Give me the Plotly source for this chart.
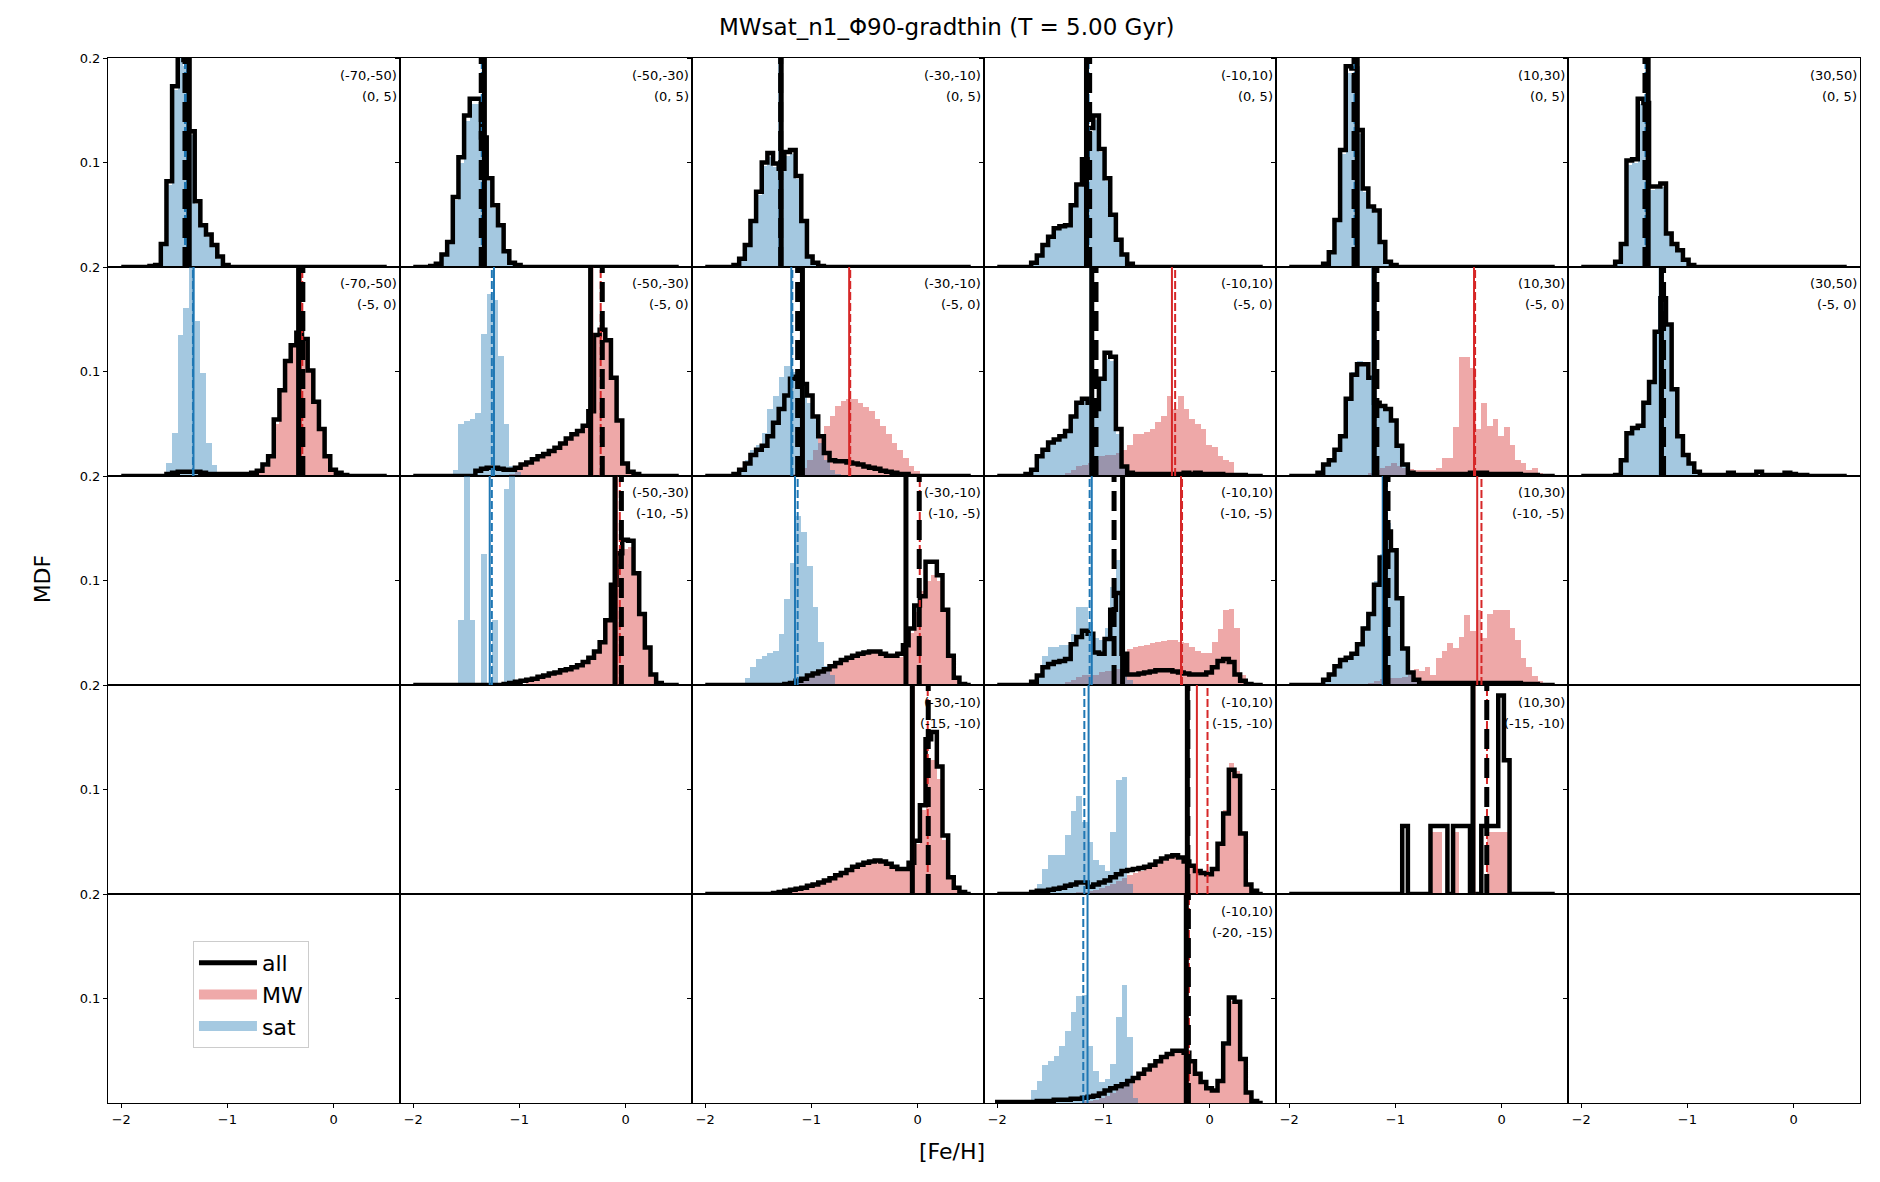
import numpy as np
import plotly.graph_objects as go
from plotly.subplots import make_subplots

NB = 47
edges = np.linspace(-2.0, 0.5, NB + 1)
centers = 0.5 * (edges[:-1] + edges[1:])
bw = edges[1] - edges[0]


def hist(start, vals):
    out = [0.0] * NB
    out[start:start + len(vals)] = vals
    return out


col_labels = ["(-70,-50)", "(-50,-30)", "(-30,-10)", "(-10,10)", "(10,30)", "(30,50)"]
row_labels = ["(0, 5)", "(-5, 0)", "(-10, -5)", "(-15, -10)", "(-20, -15)"]

# vertical lines: [all mean, all median, MW mean, MW median, sat mean, sat median]

# ---- row 0 : (0, 5) ----
all_r0c0 = hist(5, [0.001, 0.002, 0.022, 0.082, 0.173, 0.21, 0.198, 0.13, 0.063, 0.040, 0.031, 0.021, 0.010, 0.002])
sat_r0c0 = hist(6, [0.002, 0.02, 0.078, 0.169, 0.20, 0.192, 0.126, 0.06, 0.038, 0.029, 0.019, 0.008])
vl_r0c0 = [-1.36, -1.40, None, None, -1.38, -1.40]

all_r0c1 = hist(3, [0.001, 0.003, 0.012, 0.024, 0.067, 0.105, 0.145, 0.161, 0.161, 0.124, 0.085, 0.059, 0.040, 0.015, 0.004, 0.002])
sat_r0c1 = hist(4, [0.003, 0.011, 0.022, 0.064, 0.1, 0.14, 0.156, 0.156, 0.12, 0.082, 0.056, 0.038, 0.014, 0.003])
vl_r0c1 = [-1.33, -1.36, None, None, -1.34, -1.355]

all_r0c2 = hist(5, [0.002, 0.008, 0.021, 0.044, 0.072, 0.10, 0.109, 0.099, 0.094, 0.11, 0.112, 0.087, 0.044, 0.010, 0.004, 0.001])
sat_r0c2 = hist(5, [0.002, 0.007, 0.02, 0.042, 0.069, 0.097, 0.105, 0.096, 0.091, 0.106, 0.108, 0.084, 0.042, 0.009, 0.003, 0.001])
vl_r0c2 = [-1.285, -1.29, None, None, -1.30, -1.29]

all_r0c3 = hist(6, [0.004, 0.011, 0.021, 0.029, 0.037, 0.039, 0.040, 0.059, 0.079, 0.103, 0.133, 0.145, 0.113, 0.085, 0.050, 0.026, 0.012, 0.003])
sat_r0c3 = hist(6, [0.004, 0.01, 0.02, 0.028, 0.036, 0.038, 0.039, 0.057, 0.077, 0.1, 0.129, 0.141, 0.11, 0.082, 0.048, 0.025, 0.011, 0.003])
vl_r0c3 = [-1.16, -1.13, None, None, -1.17, -1.14]

all_r0c4 = hist(6, [0.003, 0.014, 0.045, 0.112, 0.192, 0.19, 0.131, 0.075, 0.058, 0.054, 0.024, 0.005, 0.002])
sat_r0c4 = hist(6, [0.003, 0.013, 0.043, 0.108, 0.186, 0.184, 0.127, 0.072, 0.056, 0.052, 0.023, 0.005, 0.002])
vl_r0c4 = [-1.36, -1.39, None, None, -1.37, -1.385]

all_r0c5 = hist(6, [0.005, 0.022, 0.102, 0.103, 0.161, 0.157, 0.077, 0.077, 0.080, 0.032, 0.022, 0.016, 0.007, 0.002])
sat_r0c5 = hist(6, [0.005, 0.021, 0.098, 0.1, 0.156, 0.152, 0.074, 0.075, 0.077, 0.031, 0.021, 0.015, 0.007, 0.002])
vl_r0c5 = [-1.37, -1.40, None, None, -1.375, -1.395]

# ---- row 1 : (-5, 0) ----
all_r1c0 = hist(8, [0.002, 0.003, 0.004, 0.004, 0.004, 0.004, 0.003, 0.002, 0.002, 0.002, 0.002, 0.002, 0.002,
                    0.002, 0.002, 0.003, 0.005, 0.011, 0.019, 0.054, 0.082, 0.11, 0.125, 0.137, 0.131, 0.101,
                    0.071, 0.045, 0.019, 0.006, 0.003, 0.001])
mw_r1c0 = hist(22, [0.001, 0.002, 0.004, 0.009, 0.018, 0.05, 0.08, 0.108, 0.123, 0.133, 0.128, 0.1, 0.07, 0.044,
                    0.018, 0.006, 0.002])
sat_r1c0 = hist(8, [0.012, 0.041, 0.135, 0.161, 0.23, 0.148, 0.099, 0.032, 0.011])
vl_r1c0 = [-0.33, -0.29, -0.31, -0.295, -1.32, -1.325]

all_r1c1 = hist(11, [0.005, 0.007, 0.008, 0.008, 0.007, 0.006, 0.006, 0.008, 0.011, 0.013, 0.016, 0.019, 0.021,
                     0.024, 0.027, 0.031, 0.036, 0.04, 0.043, 0.048, 0.062, 0.135, 0.14, 0.13, 0.094, 0.053,
                     0.012, 0.004, 0.002])
mw_r1c1 = hist(17, [0.002, 0.006, 0.01, 0.013, 0.016, 0.019, 0.021, 0.024, 0.027, 0.031, 0.036, 0.04, 0.043, 0.048,
                    0.062, 0.133, 0.143, 0.13, 0.094, 0.053, 0.012, 0.004])
sat_r1c1 = hist(7, [0.006, 0.05, 0.053, 0.055, 0.06, 0.136, 0.174, 0.168, 0.115, 0.05, 0.01, 0.004])
vl_r1c1 = [-0.33, -0.22, -0.315, -0.235, -1.24, -1.26]

all_r1c2 = hist(5, [0.002, 0.006, 0.012, 0.02, 0.025, 0.029, 0.038, 0.051, 0.064, 0.077, 0.093, 0.095, 0.088,
                    0.077, 0.057, 0.038, 0.022, 0.015, 0.014, 0.014, 0.013, 0.012, 0.011, 0.009, 0.008, 0.007,
                    0.005, 0.004, 0.003, 0.002, 0.002])
mw_r1c2 = hist(15, [0.002, 0.004, 0.008, 0.015, 0.025, 0.038, 0.048, 0.057, 0.067, 0.072, 0.074, 0.074, 0.07,
                    0.066, 0.062, 0.055, 0.048, 0.04, 0.032, 0.025, 0.017, 0.01, 0.005, 0.002])
sat_r1c2 = hist(6, [0.005, 0.015, 0.025, 0.03, 0.041, 0.064, 0.077, 0.095, 0.105, 0.10, 0.098, 0.085, 0.07, 0.055,
                    0.032, 0.015, 0.006, 0.002])
vl_r1c2 = [-1.085, -1.13, -0.645, -0.635, -1.19, -1.18]

all_r1c3 = hist(5, [0.002, 0.006, 0.019, 0.025, 0.032, 0.035, 0.038, 0.043, 0.057, 0.070, 0.074, 0.070, 0.064,
                    0.093, 0.118, 0.114, 0.045, 0.009, 0.003, 0.002, 0.002, 0.002, 0.002, 0.002, 0.002, 0.002,
                    0.002, 0.002, 0.003, 0.002, 0.003, 0.002, 0.002, 0.002, 0.002, 0.001, 0.001, 0.001, 0.001])
mw_r1c3 = hist(12, [0.003, 0.006, 0.01, 0.011, 0.012, 0.015, 0.019, 0.02, 0.02, 0.022, 0.025, 0.03, 0.04, 0.04,
                    0.042, 0.045, 0.052, 0.057, 0.077, 0.064, 0.077, 0.064, 0.055, 0.05, 0.045, 0.03, 0.028,
                    0.019, 0.015, 0.013, 0.003])
sat_r1c3 = hist(5, [0.002, 0.007, 0.02, 0.026, 0.033, 0.036, 0.04, 0.045, 0.058, 0.072, 0.076, 0.072, 0.066,
                    0.095, 0.112, 0.11, 0.04, 0.008, 0.002])
vl_r1c3 = [-1.11, -1.07, -0.355, -0.325, -1.12, -1.115]

all_r1c4 = hist(5, [0.003, 0.011, 0.015, 0.025, 0.038, 0.074, 0.097, 0.107, 0.107, 0.094, 0.07, 0.067, 0.064,
                    0.053, 0.029, 0.011, 0.003, 0.002, 0.002, 0.002, 0.002, 0.002, 0.002, 0.002, 0.002, 0.002,
                    0.002, 0.003, 0.003, 0.003, 0.002, 0.002, 0.002, 0.002, 0.002, 0.002, 0.001, 0.001, 0.001])
mw_r1c4 = hist(14, [0.003, 0.006, 0.008, 0.01, 0.012, 0.01, 0.008, 0.007, 0.006, 0.006, 0.006, 0.006, 0.008,
                    0.017, 0.017, 0.047, 0.114, 0.114, 0.103, 0.045, 0.07, 0.048, 0.055, 0.038, 0.047, 0.03,
                    0.015, 0.012, 0.006, 0.008, 0.003])
sat_r1c4 = hist(5, [0.003, 0.012, 0.016, 0.026, 0.04, 0.076, 0.1, 0.11, 0.108, 0.096, 0.072, 0.068, 0.066, 0.054,
                    0.028, 0.01, 0.003])
vl_r1c4 = [-1.20, -1.175, -0.26, -0.25, -1.215, -1.19]

all_r1c5 = hist(6, [0.001, 0.015, 0.041, 0.046, 0.048, 0.07, 0.09, 0.138, 0.17, 0.145, 0.083, 0.038, 0.02, 0.012,
                    0.004, 0.001, 0.001, 0.001, 0.001, 0.001, 0.003, 0.001, 0.001, 0.001, 0.001, 0.004, 0.001,
                    0.001, 0.001, 0.001, 0.003, 0.002, 0.001, 0.001])
sat_r1c5 = hist(7, [0.015, 0.04, 0.046, 0.048, 0.07, 0.09, 0.138, 0.165, 0.145, 0.083, 0.038, 0.02, 0.012, 0.004])
vl_r1c5 = [-1.245, -1.225, None, None, -1.26, -1.235]

# ---- row 2 : (-10, -5) ----
all_r2c1 = hist(16, [0.001, 0.002, 0.003, 0.004, 0.005, 0.006, 0.008, 0.009, 0.011, 0.012, 0.014, 0.015, 0.017,
                     0.019, 0.022, 0.026, 0.032, 0.041, 0.062, 0.096, 0.126, 0.139, 0.138, 0.107, 0.068, 0.036,
                     0.010, 0.002])
mw_r2c1 = hist(20, [0.003, 0.005, 0.007, 0.009, 0.011, 0.012, 0.014, 0.015, 0.017, 0.019, 0.022, 0.026, 0.032,
                    0.04, 0.06, 0.094, 0.12, 0.13, 0.132, 0.105, 0.066, 0.035, 0.009, 0.002])
sat_r2c1 = hist(8, [0.062, 0.25, 0.062, 0.0, 0.125, 0.0, 0.062, 0.0, 0.188, 0.25])
vl_r2c1 = [-0.10, -0.04, -0.085, -0.055, -1.28, -1.26]

all_r2c2 = hist(14, [0.001, 0.002, 0.004, 0.006, 0.009, 0.011, 0.013, 0.015, 0.018, 0.021, 0.024, 0.026, 0.028,
                     0.03, 0.031, 0.032, 0.032, 0.03, 0.028, 0.028, 0.03, 0.038, 0.054, 0.076, 0.085, 0.118,
                     0.118, 0.105, 0.072, 0.028, 0.007, 0.001])
mw_r2c2 = hist(14, [0.001, 0.002, 0.003, 0.005, 0.008, 0.01, 0.012, 0.014, 0.017, 0.02, 0.023, 0.025, 0.027,
                    0.029, 0.03, 0.031, 0.031, 0.03, 0.028, 0.027, 0.027, 0.035, 0.05, 0.07, 0.09, 0.1, 0.105,
                    0.1, 0.07, 0.028, 0.006, 0.001])
sat_r2c2 = hist(7, [0.007, 0.017, 0.025, 0.028, 0.031, 0.033, 0.049, 0.082, 0.117, 0.162, 0.146, 0.114, 0.075,
                    0.041, 0.018, 0.01])
vl_r2c2 = [-0.11, 0.015, -0.10, 0.02, -1.155, -1.13]

all_r2c3 = hist(6, [0.003, 0.009, 0.017, 0.02, 0.022, 0.023, 0.025, 0.039, 0.046, 0.052, 0.049, 0.031, 0.03, 0.044,
                    0.072, 0.088, 0.03, 0.01, 0.01, 0.011, 0.012, 0.013, 0.014, 0.014, 0.014, 0.013, 0.012, 0.011,
                    0.01, 0.01, 0.01, 0.012, 0.017, 0.023, 0.025, 0.022, 0.01, 0.004, 0.001])
mw_r2c3 = hist(12, [0.003, 0.005, 0.008, 0.01, 0.01, 0.01, 0.012, 0.013, 0.013, 0.015, 0.03, 0.034, 0.036, 0.037,
                    0.038, 0.04, 0.041, 0.042, 0.043, 0.043, 0.041, 0.04, 0.036, 0.033, 0.031, 0.031, 0.041, 0.054,
                    0.072, 0.073, 0.055, 0.01])
sat_r2c3 = hist(7, [0.009, 0.028, 0.036, 0.036, 0.038, 0.038, 0.049, 0.075, 0.075, 0.06, 0.045, 0.043, 0.055,
                    0.094, 0.12, 0.017, 0.005])
vl_r2c3 = [-0.82, -0.90, -0.27, -0.26, -1.11, -1.13]

all_r2c4 = hist(6, [0.005, 0.01, 0.018, 0.024, 0.026, 0.03, 0.039, 0.054, 0.068, 0.096, 0.122, 0.147, 0.129, 0.083,
                    0.035, 0.012, 0.005, 0.002, 0.002, 0.002, 0.002, 0.002, 0.002, 0.002, 0.002, 0.002, 0.002,
                    0.002, 0.002, 0.002, 0.002, 0.002, 0.002, 0.002, 0.002, 0.001, 0.001, 0.001])
mw_r2c4 = hist(14, [0.002, 0.004, 0.006, 0.007, 0.007, 0.007, 0.008, 0.01, 0.015, 0.013, 0.017, 0.01, 0.026,
                    0.033, 0.04, 0.035, 0.046, 0.067, 0.052, 0.072, 0.045, 0.068, 0.072, 0.072, 0.072, 0.055,
                    0.043, 0.026, 0.017, 0.009, 0.004])
sat_r2c4 = hist(6, [0.005, 0.01, 0.019, 0.025, 0.027, 0.031, 0.04, 0.056, 0.07, 0.1, 0.125, 0.155, 0.13, 0.085,
                    0.036, 0.012, 0.005])
vl_r2c4 = [-1.095, -1.07, -0.23, -0.19, -1.12, -1.08]

# ---- row 3 : (-15, -10) ----
all_r3c2 = hist(12, [0.001, 0.002, 0.003, 0.004, 0.005, 0.006, 0.008, 0.009, 0.011, 0.013, 0.015, 0.018, 0.02,
                     0.023, 0.026, 0.028, 0.03, 0.031, 0.032, 0.031, 0.029, 0.026, 0.024, 0.024, 0.03, 0.051,
                     0.085, 0.148, 0.155, 0.122, 0.056, 0.016, 0.006, 0.002])
mw_r3c2 = hist(12, [0.001, 0.002, 0.003, 0.004, 0.005, 0.006, 0.007, 0.009, 0.011, 0.013, 0.015, 0.017, 0.02,
                    0.022, 0.025, 0.027, 0.029, 0.03, 0.031, 0.03, 0.028, 0.025, 0.023, 0.023, 0.028, 0.048,
                    0.08, 0.13, 0.128, 0.11, 0.052, 0.015, 0.005, 0.001])
vl_r3c2 = [-0.05, 0.10, -0.04, 0.095, None, None]

all_r3c3 = hist(6, [0.002, 0.003, 0.003, 0.004, 0.005, 0.006, 0.008, 0.009, 0.011, 0.011, 0.007, 0.009, 0.011,
                    0.013, 0.016, 0.019, 0.022, 0.023, 0.024, 0.025, 0.026, 0.028, 0.031, 0.034, 0.036, 0.037,
                    0.035, 0.031, 0.027, 0.022, 0.02, 0.019, 0.024, 0.048, 0.077, 0.119, 0.113, 0.058, 0.009,
                    0.003])
mw_r3c3 = hist(14, [0.001, 0.002, 0.003, 0.004, 0.006, 0.008, 0.01, 0.012, 0.015, 0.018, 0.02, 0.022, 0.024,
                    0.026, 0.029, 0.032, 0.034, 0.035, 0.033, 0.03, 0.026, 0.021, 0.02, 0.02, 0.025, 0.05, 0.08,
                    0.125, 0.118, 0.06, 0.01, 0.002])
sat_r3c3 = hist(7, [0.01, 0.024, 0.037, 0.037, 0.037, 0.056, 0.079, 0.094, 0.069, 0.05, 0.033, 0.028, 0.022, 0.059,
                    0.109, 0.112, 0.01])
vl_r3c3 = [-0.21, -0.205, -0.12, -0.02, -1.14, -1.18]

all_r3c4 = hist(20, [0.065, 0.0, 0.0, 0.0, 0.0, 0.065, 0.065, 0.065, 0.0, 0.065, 0.065, 0.065, 0.0, 0.0, 0.065,
                     0.065, 0.065, 0.19, 0.128])
mw_r3c4 = hist(25, [0.059, 0.059, 0.0, 0.0, 0.059, 0.0, 0.0, 0.0, 0.0, 0.0, 0.059, 0.059, 0.059, 0.059])
vl_r3c4 = [-0.27, -0.14, -0.258, -0.138, None, None]

# ---- row 4 : (-20, -15) ----
all_r4c3 = hist(0, [0.001, 0.001, 0.001, 0.001, 0.001, 0.001, 0.001, 0.002, 0.002, 0.002, 0.003, 0.003, 0.003,
                    0.004, 0.004, 0.005, 0.006, 0.007, 0.009, 0.012, 0.014, 0.016, 0.018, 0.021, 0.024, 0.028,
                    0.032, 0.036, 0.04, 0.044, 0.047, 0.05, 0.05, 0.048, 0.04, 0.028, 0.02, 0.014, 0.012, 0.021,
                    0.057, 0.101, 0.097, 0.042, 0.01, 0.002])
mw_r4c3 = hist(15, [0.001, 0.002, 0.003, 0.005, 0.007, 0.01, 0.013, 0.016, 0.019, 0.022, 0.026, 0.03, 0.034,
                    0.038, 0.042, 0.045, 0.048, 0.048, 0.046, 0.039, 0.027, 0.019, 0.013, 0.011, 0.02, 0.055,
                    0.098, 0.095, 0.04, 0.009, 0.002])
sat_r4c3 = hist(6, [0.012, 0.021, 0.036, 0.04, 0.045, 0.055, 0.069, 0.087, 0.102, 0.103, 0.055, 0.031, 0.02,
                    0.023, 0.037, 0.082, 0.113, 0.063, 0.005])
vl_r4c3 = [-0.22, -0.20, -0.21, -0.195, -1.15, -1.19]

panels = [
    (0, 0, all_r0c0, None, sat_r0c0, vl_r0c0),
    (0, 1, all_r0c1, None, sat_r0c1, vl_r0c1),
    (0, 2, all_r0c2, None, sat_r0c2, vl_r0c2),
    (0, 3, all_r0c3, None, sat_r0c3, vl_r0c3),
    (0, 4, all_r0c4, None, sat_r0c4, vl_r0c4),
    (0, 5, all_r0c5, None, sat_r0c5, vl_r0c5),
    (1, 0, all_r1c0, mw_r1c0, sat_r1c0, vl_r1c0),
    (1, 1, all_r1c1, mw_r1c1, sat_r1c1, vl_r1c1),
    (1, 2, all_r1c2, mw_r1c2, sat_r1c2, vl_r1c2),
    (1, 3, all_r1c3, mw_r1c3, sat_r1c3, vl_r1c3),
    (1, 4, all_r1c4, mw_r1c4, sat_r1c4, vl_r1c4),
    (1, 5, all_r1c5, None, sat_r1c5, vl_r1c5),
    (2, 1, all_r2c1, mw_r2c1, sat_r2c1, vl_r2c1),
    (2, 2, all_r2c2, mw_r2c2, sat_r2c2, vl_r2c2),
    (2, 3, all_r2c3, mw_r2c3, sat_r2c3, vl_r2c3),
    (2, 4, all_r2c4, mw_r2c4, sat_r2c4, vl_r2c4),
    (3, 2, all_r3c2, mw_r3c2, None, vl_r3c2),
    (3, 3, all_r3c3, mw_r3c3, sat_r3c3, vl_r3c3),
    (3, 4, all_r3c4, mw_r3c4, None, vl_r3c4),
    (4, 3, all_r4c3, mw_r4c3, sat_r4c3, vl_r4c3),
]

RED = "#d62728"
BLUE = "#1f77b4"
FONT = "DejaVu Sans"

fig = make_subplots(rows=5, cols=6, horizontal_spacing=0, vertical_spacing=0)

filled = set()
shapes = []
annots = []
for r, c, h_all, h_mw, h_sat, vl in panels:
    filled.add((r, c))
    n = r * 6 + c + 1
    xa = "x" if n == 1 else f"x{n}"
    ya = "y" if n == 1 else f"y{n}"
    if h_mw is not None:
        fig.add_trace(go.Bar(x=centers, y=h_mw, width=bw, marker_color=RED, marker_line_width=0,
                             opacity=0.4, showlegend=False), row=r + 1, col=c + 1)
    if h_sat is not None:
        fig.add_trace(go.Bar(x=centers, y=h_sat, width=bw, marker_color=BLUE, marker_line_width=0,
                             opacity=0.4, showlegend=False), row=r + 1, col=c + 1)
    xs = [edges[0]] + list(edges[:-1]) + [edges[-1], edges[-1]]
    ys = [0.0] + list(h_all) + [h_all[-1], 0.0]
    fig.add_trace(go.Scatter(x=xs, y=ys, mode="lines", line=dict(color="black", width=4.5, shape="hv"),
                             showlegend=False), row=r + 1, col=c + 1)

    styles = [("black", 5, "solid"), ("black", 5, "20px,9px"),
              (RED, 2, "solid"), (RED, 2, "8px,3px"),
              (BLUE, 2, "solid"), (BLUE, 2, "8px,3px")]
    for order in [2, 3, 4, 5, 0, 1]:
        v = vl[order]
        if v is None:
            continue
        col, wd, dash = styles[order]
        shapes.append(dict(type="line", xref=xa, yref=f"{ya} domain", x0=v, x1=v, y0=0, y1=1,
                           line=dict(color=col, width=wd, dash=dash), layer="above"))

    for txt, dy in [(col_labels[c], -17), (row_labels[r], -38)]:
        annots.append(dict(text=txt, xref=f"{xa} domain", yref=f"{ya} domain", x=0.997, y=1,
                           xanchor="right", yanchor="middle", yshift=dy, showarrow=False,
                           font=dict(family=FONT, size=13, color="black")))

# empty panels still need their frames
for r in range(5):
    for c in range(6):
        if (r, c) not in filled:
            fig.add_trace(go.Scatter(x=[None], y=[None], mode="lines", showlegend=False,
                                     hoverinfo="skip"), row=r + 1, col=c + 1)

# legend entries (line for "all", wide pale strokes as patches for MW / sat)
legend_items = [("all", "black", 5), ("MW", "rgba(214,39,40,0.4)", 16), ("sat", "rgba(31,119,180,0.4)", 16)]
for name, colr, wd in legend_items:
    fig.add_trace(go.Scatter(x=[None], y=[None], mode="lines", name=name,
                             line=dict(color=colr, width=wd), showlegend=True), row=5, col=1)

annots.append(dict(text="MWsat_n1_Φ90-gradthin (T = 5.00 Gyr)", xref="paper", yref="paper",
                   x=0.479, y=1.0297, xanchor="center", yanchor="middle", showarrow=False,
                   font=dict(family=FONT, size=23, color="black")))
annots.append(dict(text="MDF", xref="paper", yref="paper", x=-0.0377, y=0.502, textangle=-90,
                   xanchor="center", yanchor="middle", showarrow=False,
                   font=dict(family=FONT, size=22, color="black")))
annots.append(dict(text="[Fe/H]", xref="paper", yref="paper", x=0.4817, y=-0.046,
                   xanchor="center", yanchor="middle", showarrow=False,
                   font=dict(family=FONT, size=22, color="black")))

fig.update_xaxes(range=[-2.125, 0.625], showline=True, mirror=True, linecolor="black", linewidth=1,
                 showgrid=False, zeroline=False, tickvals=[-2, -1, 0], ticktext=["−2", "−1", "0"],
                 ticks="", showticklabels=False, tickfont=dict(family=FONT, size=13, color="black"))
fig.update_xaxes(ticks="outside", ticklen=4, tickcolor="black", showticklabels=True, row=5)
fig.update_yaxes(range=[0, 0.2], showline=True, mirror=True, linecolor="black", linewidth=1,
                 showgrid=False, zeroline=False, tickvals=[0.1, 0.2], ticktext=["0.1", "0.2"],
                 ticks="outside", ticklen=4, tickcolor="black", showticklabels=False,
                 tickfont=dict(family=FONT, size=13, color="black"))
fig.update_yaxes(showticklabels=True, col=1)

fig.update_layout(
    width=1880, height=1182,
    margin=dict(l=108, r=20, t=58, b=79),
    barmode="overlay", bargap=0,
    plot_bgcolor="white", paper_bgcolor="white",
    font=dict(family=FONT, color="black"),
    shapes=shapes, annotations=annots,
    legend=dict(x=0.0485, y=0.155, xanchor="left", yanchor="top", bgcolor="white",
                bordercolor="#cccccc", borderwidth=1, font=dict(family=FONT, size=22),
                itemwidth=58, tracegroupgap=4),
)

fig.write_html("out.html", config={"displayModeBar": False},
               post_script="document.body.style.margin='0';")
